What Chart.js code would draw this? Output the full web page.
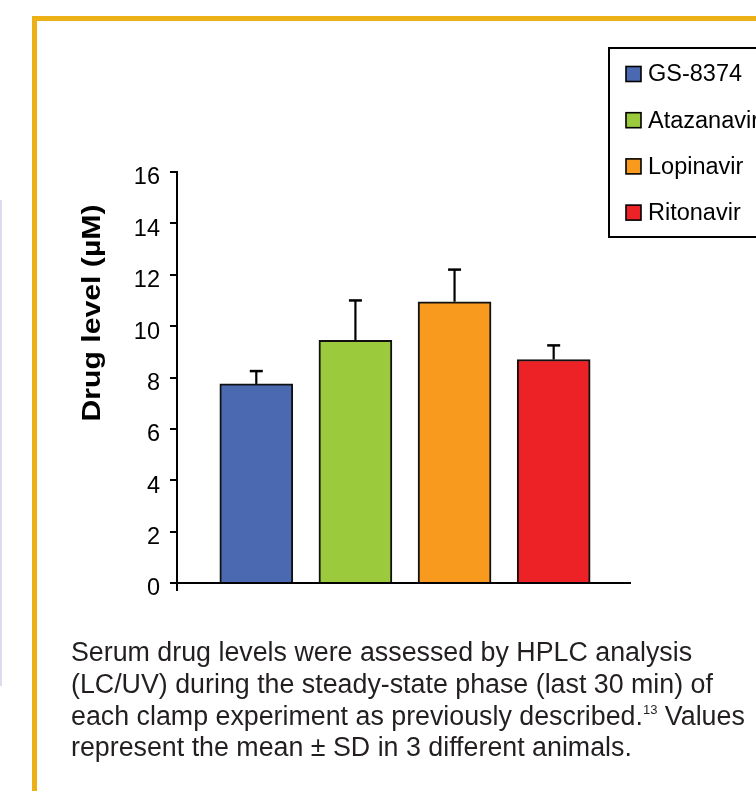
<!DOCTYPE html>
<html>
<head>
<meta charset="utf-8">
<script src="https://cdn.jsdelivr.net/npm/chart.js@4.4.1/dist/chart.umd.min.js"></script>
<style>
  html, body { margin: 0; padding: 0; background: #fff; width: 756px; height: 791px; overflow: hidden; }
  body { position: relative; font-family: "Liberation Sans", Arial, sans-serif; }
  #frame { position: absolute; left: 32px; top: 16px; width: 900px; height: 900px;
           border-top: 5px solid #ECB116; border-left: 5px solid #ECB116; box-sizing: border-box; }
  #sideRule { position: absolute; left: 0; top: 200px; width: 2px; height: 486px; background: #dcdcee; }
  #plot { position: absolute; left: 0; top: 0; }
  .cap { position: absolute; left: 71px; white-space: nowrap; font-size: 26.8px; line-height: 32px; color: #231f20; }
  .cap sup { font-size: 13px; vertical-align: 0; position: relative; top: -11px; }
</style>
</head>
<body>
<div id="frame"></div>
<div id="sideRule"></div>
<canvas id="plot" width="756" height="791"></canvas>
<div class="cap" style="top:636px">Serum drug levels were assessed by HPLC analysis</div>
<div class="cap" style="top:668px">(LC/UV) during the steady-state phase (last 30 min) of</div>
<div class="cap" style="top:700px">each clamp experiment as previously described.<sup>13</sup> Values</div>
<div class="cap" style="top:731px">represent the mean ± SD in 3 different animals.</div>

<script>
// Serum drug levels (µM), mean and SD over 3 animals
const drugs = ['GS-8374', 'Atazanavir', 'Lopinavir', 'Ritonavir'];
const meanLevels = [7.75, 9.45, 10.95, 8.7];
const sdLevels = [0.5, 1.55, 1.25, 0.55];
const barColors = ['#4A69B1', '#9BCB3C', '#F89A1E', '#EC2227'];
const yTickValues = [0, 2, 4, 6, 8, 10, 12, 14, 16];
const yTitle = 'Drug level (µM)';

const FONT = '"Liberation Sans", Arial, sans-serif';

// upper error whiskers (mean -> mean + SD)
const errorBars = {
  id: 'errorBars',
  afterDatasetsDraw(chart) {
    const ctx = chart.ctx;
    const y = chart.scales.y;
    const meta = chart.getDatasetMeta(0);
    ctx.save();
    ctx.strokeStyle = '#000';
    meta.data.forEach((bar, i) => {
      const top = y.getPixelForValue(meanLevels[i] + sdLevels[i]);
      ctx.lineWidth = 2.2;
      ctx.beginPath();
      ctx.moveTo(bar.x, bar.y);
      ctx.lineTo(bar.x, top);
      ctx.stroke();
      ctx.lineWidth = 2.5;
      ctx.beginPath();
      ctx.moveTo(bar.x - 6.5, top);
      ctx.lineTo(bar.x + 6.5, top);
      ctx.stroke();
    });
    ctx.restore();
  }
};

// rotated bold axis title
const axisTitle = {
  id: 'axisTitle',
  afterDraw(chart) {
    const ctx = chart.ctx;
    ctx.save();
    ctx.font = 'bold 26px ' + FONT;
    const w = ctx.measureText(yTitle).width;
    ctx.translate(99.5, 313);
    ctx.rotate(-Math.PI / 2);
    ctx.scale(217 / w, 1);
    ctx.fillStyle = '#000';
    ctx.textAlign = 'center';
    ctx.textBaseline = 'alphabetic';
    ctx.fillText(yTitle, 0, 0);
    ctx.restore();
  }
};

// boxed legend in the upper right
const boxLegend = {
  id: 'boxLegend',
  afterDraw(chart) {
    const ctx = chart.ctx;
    ctx.save();
    ctx.strokeStyle = '#000';
    ctx.lineWidth = 2;
    ctx.strokeRect(609, 48, 220, 189);
    ctx.font = '23.5px ' + FONT;
    ctx.textBaseline = 'middle';
    ctx.textAlign = 'left';
    drugs.forEach((name, i) => {
      const cy = 74 + i * 46.2;
      ctx.fillStyle = barColors[i];
      ctx.fillRect(626, cy - 7.5, 15, 15);
      ctx.lineWidth = 1.6;
      ctx.strokeStyle = '#000';
      ctx.strokeRect(626, cy - 7.5, 15, 15);
      ctx.fillStyle = '#000';
      ctx.fillText(name, 648, cy + 1);
    });
    ctx.restore();
  }
};

new Chart(document.getElementById('plot'), {
  type: 'bar',
  data: {
    datasets: [{
      label: 'Drug level',
      data: drugs.map((d, i) => ({ x: i + 1, y: meanLevels[i] })),
      backgroundColor: barColors,
      borderColor: '#111',
      borderWidth: 2,
      barThickness: 73
    }]
  },
  options: {
    responsive: false,
    animation: false,
    devicePixelRatio: 1,
    layout: { padding: { left: 0, right: 126, top: 172, bottom: 200 } },
    plugins: { legend: { display: false }, tooltip: { enabled: false } },
    scales: {
      x: {
        type: 'linear',
        min: 0.2,
        max: 4.77,
        offset: false,
        afterBuildTicks(s) { s.ticks = [{ value: s.min }]; },
        afterFit(s) { s.height = 8; },
        ticks: { display: false },
        grid: { display: true, offset: false, drawOnChartArea: false, drawTicks: true, tickLength: 8, color: '#000', lineWidth: 2 },
        border: { display: true, color: '#000', width: 2 }
      },
      y: {
        min: 0,
        max: 16,
        afterBuildTicks(s) { s.ticks = yTickValues.map(v => ({ value: v })); },
        afterFit(s) { s.width = 177; },
        ticks: { color: '#000', padding: 10, labelOffset: 6, font: { family: FONT, size: 23.5 } },
        grid: { drawOnChartArea: false, drawTicks: true, tickLength: 7, color: '#000', lineWidth: 2 },
        border: { display: true, color: '#000', width: 2 }
      }
    }
  },
  plugins: [errorBars, axisTitle, boxLegend]
});
</script>
</body>
</html>
